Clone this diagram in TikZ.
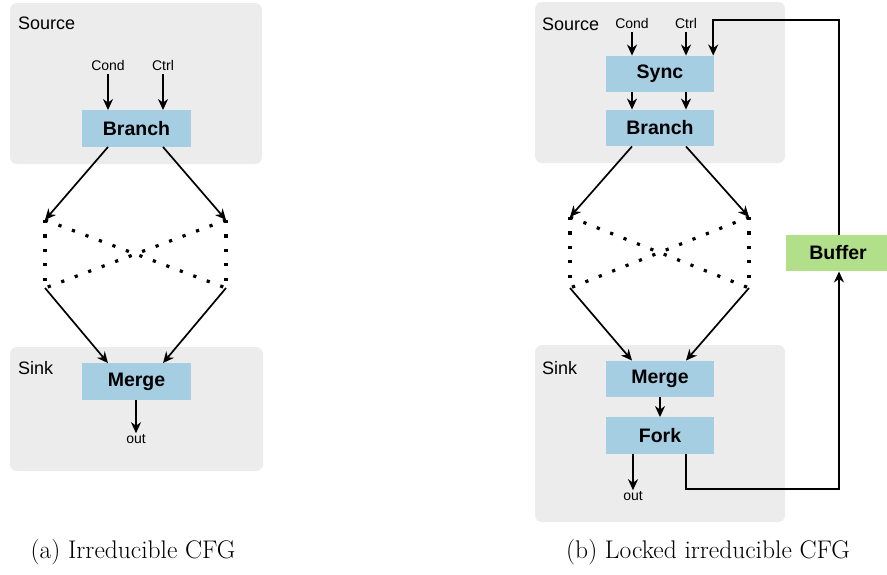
\documentclass[tikz,border=0pt]{standalone}
\usepackage{fontspec}
\newfontfamily\diagfont{Liberation Sans}
\usetikzlibrary{arrows.meta}
\definecolor{regionfill}{HTML}{ECECEC}
\definecolor{unitblue}{HTML}{A6CEE3}
\definecolor{unitgreen}{HTML}{B2DF8A}
\begin{document}
\begin{tikzpicture}[x=1pt,y=-1pt,
  region/.style={fill=regionfill,rounded corners=7pt,draw=none,inner sep=0pt},
  unit/.style={fill=unitblue,draw=none,inner sep=0pt,minimum height=36.5pt,
    font=\diagfont\fontsize{19.5}{22}\selectfont\bfseries},
  bufunit/.style={unit,fill=unitgreen},
  regionlabel/.style={anchor=west,inner sep=0pt,font=\diagfont\fontsize{18}{20}\selectfont},
  port/.style={inner sep=1pt,font=\diagfont\fontsize{14}{16}\selectfont},
  arr/.style={line width=1.7pt,-{Stealth[length=11pt,width=10pt,inset=3.5pt]}},
  cross/.style={line width=3.2pt,dash pattern=on 3.2pt off 11.2pt},
  caption/.style={inner sep=0pt,font=\fontsize{25.5}{28}\selectfont}]
\useasboundingbox (0,0) rectangle (887,574);

% ---------------- (a) irreducible CFG ----------------
\node[region,minimum width=252pt,minimum height=161pt] (srcA) at (136,83.5) {};
\node[region,minimum width=253pt,minimum height=124pt] (sinkA) at (136.5,409) {};
\node[regionlabel] (srcAlbl) at (18,23) {Source};
\node[regionlabel] (sinkAlbl) at (18,368) {Sink};

\node[unit,minimum width=109pt] (branchA) at (136.5,128.5) {Branch};
\node[unit,minimum width=109pt] (mergeA) at (136.5,381.5) {Merge};
\node[port] (condA) at (108,65) {Cond};
\node[port] (ctrlA) at (163,65) {Ctrl};
\node[port] (outA) at (136,439) {out};

\draw[arr] ([yshift=-3pt]condA.south) -- (condA.south |- branchA.north);
\draw[arr] ([yshift=-3pt]ctrlA.south) -- (ctrlA.south |- branchA.north);
\draw[arr] (mergeA.south -| outA) -- (outA.north);

\coordinate (a1) at (45,220);
\coordinate (a2) at (226,220);
\coordinate (a3) at (45,288);
\coordinate (a4) at (226,288);
\draw[cross] (a1) -- (a3);
\draw[cross] (a2) -- (a4);
\draw[cross] (a1) -- (a4);
\draw[cross] (a2) -- (a3);

\draw[arr] (condA |- branchA.south) -- (a1);
\draw[arr] (ctrlA |- branchA.south) -- (a2);
\draw[arr] (a3) -- (condA |- mergeA.north);
\draw[arr] (a4) -- (ctrlA |- mergeA.north);

\node[caption] (capA) at (133,552) {(a) Irreducible CFG};

% ---------------- (b) locked irreducible CFG ----------------
\node[region,minimum width=250pt,minimum height=161pt] (srcB) at (660,82.5) {};
\node[region,minimum width=250pt,minimum height=177pt] (sinkB) at (660,433.5) {};
\node[regionlabel] (srcBlbl) at (542,24) {Source};
\node[regionlabel] (sinkBlbl) at (542,368) {Sink};

\node[unit,minimum width=108pt] (syncB) at (660,74) {Sync};
\node[unit,minimum width=108pt] (branchB) at (660,128) {Branch};
\node[unit,minimum width=108pt] (mergeB) at (660,379) {Merge};
\node[unit,minimum width=108pt] (forkB) at (660,435.5) {Fork};
\node[bufunit,minimum width=104pt] (bufB) at (838,253) {Buffer};
\node[port] (condB) at (632,23) {Cond};
\node[port] (ctrlB) at (686,23) {Ctrl};
\node[port] (outB) at (633,496) {out};

\draw[arr] ([yshift=-3pt]condB.south) -- (condB.south |- syncB.north);
\draw[arr] ([yshift=-3pt]ctrlB.south) -- (ctrlB.south |- syncB.north);
\draw[arr] (condB |- syncB.south) -- (condB |- branchB.north);
\draw[arr] (ctrlB |- syncB.south) -- (ctrlB |- branchB.north);
\draw[arr] (mergeB.south) -- (forkB.north);
\draw[arr] (forkB.south -| outB) -- (outB.north);

\coordinate (b1) at (570,217);
\coordinate (b2) at (749,217);
\coordinate (b3) at (570,288);
\coordinate (b4) at (749,288);
\draw[cross] (b1) -- (b3);
\draw[cross] (b2) -- (b4);
\draw[cross] (b1) -- (b4);
\draw[cross] (b2) -- (b3);

\draw[arr] (condB |- branchB.south) -- (b1);
\draw[arr] (ctrlB |- branchB.south) -- (b2);
\draw[arr] (b3) -- (condB |- mergeB.north);
\draw[arr] (b4) -- (ctrlB |- mergeB.north);

% feedback loop through the buffer
\coordinate (loopLow) at (839,489);
\coordinate (loopHigh) at (839,20);
\draw[arr] (ctrlB |- forkB.south) |- (loopLow) -- (loopLow |- bufB.south);
\draw[arr] (loopHigh |- bufB.north) -- (loopHigh) -| ([xshift=-1pt]syncB.north east);

\node[caption] (capB) at (708,552) {(b) Locked irreducible CFG};
\end{tikzpicture}
\end{document}
